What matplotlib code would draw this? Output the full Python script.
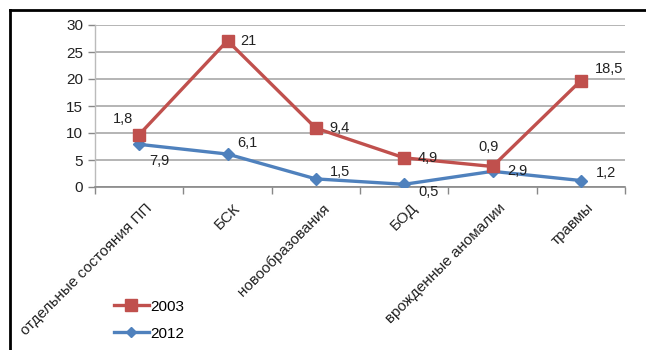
import matplotlib.pyplot as plt
import matplotlib.transforms as mtransforms
import numpy as np
from matplotlib.lines import Line2D

plt.rcParams['font.family'] = ['Liberation Sans', 'DejaVu Sans']

# data (stacked line chart: 2003 drawn on top of 2012)
categories = ['отдельные состояния ПП', 'БСК', 'новообразования', 'БОД',
              'врожденные аномалии', 'травмы']
v2012 = [7.9, 6.1, 1.5, 0.5, 2.9, 1.2]
v2003 = [1.8, 21, 9.4, 4.9, 0.9, 18.5]
lab2012 = ['7,9', '6,1', '1,5', '0,5', '2,9', '1,2']
lab2003 = ['1,8', '21', '9,4', '4,9', '0,9', '18,5']

red = '#C0504D'
blue = '#4F81BD'

fig = plt.figure(figsize=(6.46, 3.5), dpi=100)
ax = fig.add_axes([95/646, 1-187/350, 530/646, 162/350])

x = np.arange(len(categories))
low = np.array(v2012)
top = low + np.array(v2003)

ax.plot(x, low, color=blue, lw=2.4, marker='D', ms=6.5, zorder=3)
ax.plot(x, top, color=red, lw=2.4, marker='s', ms=9, zorder=4)

# label offsets in pixels
off2003 = [(-16, 16), (21, 0), (24, 0), (24, 0), (-4, 19), (28, 12)]
off2012 = [(20, -17), (20, 11), (24, 7), (24, -8), (25, 0), (25, 8)]
for i in range(len(x)):
    ax.annotate(lab2003[i], (x[i], top[i]), xytext=off2003[i], textcoords='offset pixels',
                ha='center', va='center', fontsize=10.5, color='#222222', zorder=5)
    ax.annotate(lab2012[i], (x[i], low[i]), xytext=off2012[i], textcoords='offset pixels',
                ha='center', va='center', fontsize=10.5, color='#222222', zorder=5)

ax.set_xlim(-0.5, len(x) - 0.5)
ax.set_ylim(0, 30)
ax.set_yticks(range(0, 31, 5))
ax.grid(axis='y', color='#AFAFAF', lw=1.3)
ax.set_axisbelow(True)

ax.set_xticks(x)
ax.set_xticklabels(categories, rotation=45, ha='right', va='top', rotation_mode='anchor',
                   fontsize=11, color='#222222')
ax.tick_params(axis='x', length=0, pad=10)
shift = mtransforms.ScaledTranslation(6/100, 0, fig.dpi_scale_trans)
for lab in ax.get_xticklabels():
    lab.set_transform(lab.get_transform() + shift)
ax.set_xticks(np.arange(-0.5, len(x), 1), minor=True)
ax.tick_params(axis='x', which='minor', length=5, color='#888888', width=1)
ax.tick_params(axis='y', length=5, color='#888888', width=1, labelsize=11, colors='#222222')

for s in ['top', 'right']:
    ax.spines[s].set_visible(False)
ax.spines['bottom'].set_color('#888888')
ax.spines['left'].set_color('#BBBBBB')
ax.spines['bottom'].set_linewidth(1.2)
ax.spines['left'].set_linewidth(1)

handles = [Line2D([], [], color=red, lw=2.4, marker='s', ms=8),
           Line2D([], [], color=blue, lw=2.4, marker='D', ms=5.5)]
fig.legend(handles, ['2003', '2012'], loc='upper left', bbox_to_anchor=(100/646, 1-286/350),
           frameon=False, fontsize=11, handlelength=2.3, handletextpad=0.1, labelspacing=0.85)

# black frame lines (top and left)
fig.add_artist(Line2D([10/646, 1], [1-10/350, 1-10/350], color='black', lw=2))
fig.add_artist(Line2D([10/646, 10/646], [0, 1-10/350], color='black', lw=2))

fig.savefig('out.png', dpi=100)
